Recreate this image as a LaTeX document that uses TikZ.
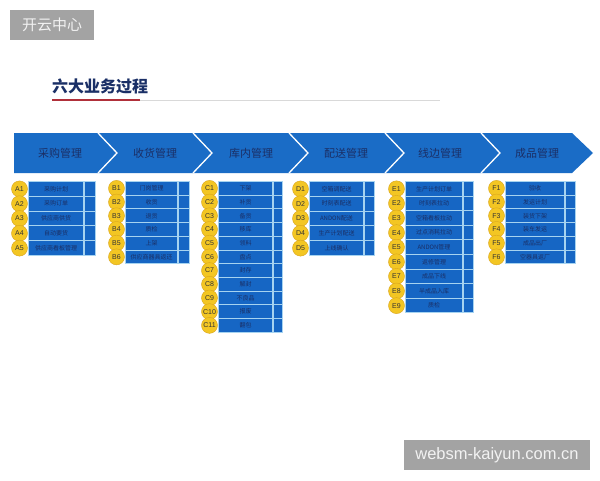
\documentclass[tikz,border=0pt]{standalone}
\usepackage{fontspec}
\setmainfont{Liberation Sans}
\newfontfamily\cjk{Noto Sans CJK SC}
\definecolor{bannerblue}{HTML}{1A6CC6}
\definecolor{cellblue}{HTML}{1666C4}
\definecolor{gridcol}{HTML}{A6D3F0}
\definecolor{navy}{HTML}{1A2F66}
\definecolor{badgeyel}{HTML}{F3C623}
\definecolor{badgeedge}{HTML}{D9A41C}
\definecolor{markgray}{HTML}{A3A3A3}
\definecolor{redline}{HTML}{B0303A}
\tikzset{
  cell/.style={draw=gridcol, line width=1pt, fill=cellblue, text=navy, inner sep=0pt,
    anchor=north west, font=\cjk\fontsize{6}{7}\selectfont},
  badge/.style={circle, fill=badgeyel, draw=badgeedge, line width=0.4pt, minimum size=16pt,
    inner sep=0pt, text=black!80, font=\fontsize{7}{7}\selectfont},
  phase/.style={text=navy, font=\cjk\fontsize{11}{11}\selectfont},
  sepline/.style={draw=white, line width=1.3pt},
  wmark/.style={fill=markgray, text=white!95!black, inner sep=0pt},
}
\newcommand\bizcol[6]{%
  \foreach \txt [count=\i] in {#6} {
    \pgfmathsetmacro\yy{181+(\i-1)*#5}
    \node[cell, minimum width=#3pt, minimum height=#5pt] (#1\i) at (#2,\yy) {\txt};
    \node[cell, minimum width=#4pt, minimum height=#5pt] (#1\i-n) at (#1\i.north east) {};
    \node[badge, xshift=-8.5pt] (#1\i-b) at (#1\i.west) {#1\i};
  }}
\begin{document}
\begin{tikzpicture}[x=1pt,y=-1pt]
\useasboundingbox (0,0) rectangle (600,480);
\fill[white] (0,0) rectangle (600,480);
% watermarks
\node[wmark, minimum width=84pt, minimum height=30pt, font=\cjk\fontsize{15}{15}\selectfont] (wm1) at (52,25) {开云中心};
\node[wmark, minimum width=186pt, minimum height=30pt, font=\fontsize{16.5}{16.5}\selectfont] (wm2) at (497,455) {websm-kaiyun.com.cn};
% title
\node[anchor=west, text=navy, font=\cjk\bfseries\fontsize{16}{16}\selectfont, inner sep=0pt] (title) at (52,86) {六大业务过程};
\draw[draw=black!15, line width=1pt] (140,100) -- (440,100);
\draw[draw=redline, line width=1.5pt] (52,100) -- (140,100);
% banner
\fill[bannerblue] (14,133) -- (572,133) -- (593,153) -- (572,173) -- (14,173) -- cycle;
\foreach \sx in {98,193,289,385,481} {
  \draw[sepline] (\sx,133) -- (\sx+19,153) -- (\sx,173);
}
\node[phase] (P1) at (60,153) {采购管理};
\node[phase] (P2) at (155,153) {收货管理};
\node[phase] (P3) at (251,153) {库内管理};
\node[phase] (P4) at (346,153) {配送管理};
\node[phase] (P5) at (440,153) {线边管理};
\node[phase] (P6) at (537,153) {成品管理};
% columns
\bizcol{A}{28}{55}{11}{14.8}{采购计划,采购订单,供应商供货,自动要货,供应商看板管理}
\bizcol{B}{125}{52}{11}{13.7}{门岗管理,收货,退货,质检,上架,供应商器具返还}
\bizcol{C}{218}{54}{9}{13.7}{下架,补货,备货,移库,领料,盘点,封存,解封,不良品,报废,翻包}
\bizcol{D}{309}{54}{10}{14.8}{空箱调配送,时刻表配送,ANDON配送,生产计划配送,上线确认}
\bizcol{E}{405}{57}{10}{14.6}{生产计划订单,时刻表拉动,空箱看板拉动,过点消耗拉动,ANDON管理,返修管理,成品下线,半成品入库,质检}
\bizcol{F}{505}{59}{10}{13.7}{验收,发运计划,装货下架,装车发运,成品出厂,空器具返厂}
\end{tikzpicture}
\end{document}
